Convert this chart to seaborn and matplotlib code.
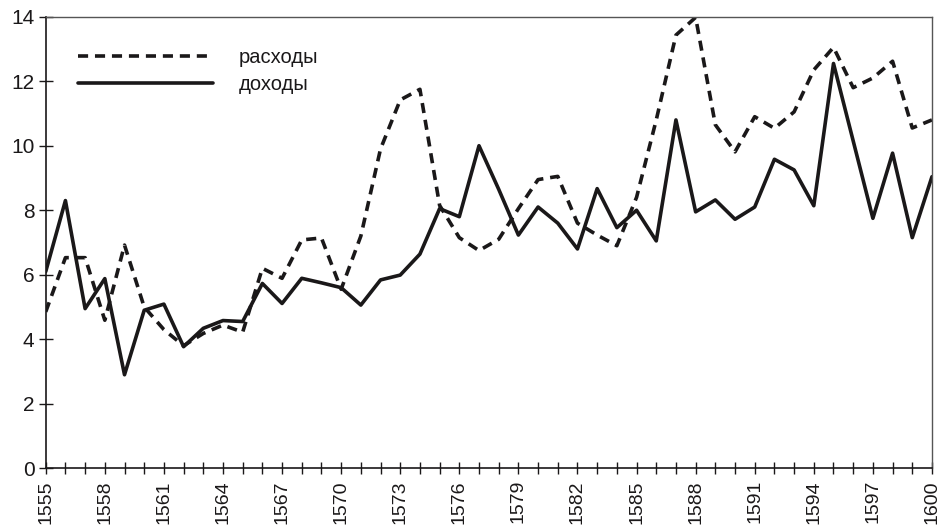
import matplotlib
matplotlib.use("Agg")
import matplotlib.pyplot as plt
import seaborn as sns
import pandas as pd

years = list(range(1555, 1601))

income = [6.1, 8.3, 4.95, 5.88, 2.9, 4.9, 5.09, 3.77, 4.34, 4.58,
          4.55, 5.73, 5.11, 5.89, 5.75, 5.6, 5.06, 5.84, 5.99, 6.64,
          8.05, 7.8, 10.0, 8.65, 7.23, 8.1, 7.6, 6.8, 8.67, 7.46,
          8.0, 7.05, 10.8, 7.95, 8.32, 7.72, 8.1, 9.58, 9.25, 8.14,
          12.55, 10.15, 7.75, 9.77, 7.15, 9.04]

expenses = [4.85, 6.53, 6.53, 4.59, 6.92, 5.0, 4.3, 3.8, 4.18, 4.44,
            4.22, 6.2, 5.89, 7.08, 7.14, 5.55, 7.2, 9.9, 11.42, 11.75,
            8.15, 7.15, 6.75, 7.1, 8.05, 8.95, 9.05, 7.6, 7.23, 6.9,
            8.4, 10.8, 13.43, 13.98, 10.65, 9.81, 10.9, 10.54, 11.05, 12.35,
            13.05, 11.8, 12.1, 12.62, 10.55, 10.8]

series_names = ["расходы", "доходы"]
y_ticks = [0, 2, 4, 6, 8, 10, 12, 14]
x_tick_labels = [str(y) if (y - 1555) % 3 == 0 else "" for y in years]

df = pd.concat([
    pd.DataFrame({"year": years, "value": expenses, "series": series_names[0]}),
    pd.DataFrame({"year": years, "value": income, "series": series_names[1]}),
], ignore_index=True)

sns.set_style("ticks")
plt.rcParams["font.family"] = ["Liberation Sans", "DejaVu Sans"]

ink = "#1a1819"
fig = plt.figure(figsize=(9.41, 5.27), dpi=100)
ax = fig.add_axes([0.0486, 0.1114, 0.9418, 0.8569])

sns.lineplot(data=df, x="year", y="value", hue="series", style="series",
             hue_order=series_names, style_order=series_names,
             palette={series_names[0]: ink, series_names[1]: ink},
             dashes={series_names[0]: (2.8, 1.9), series_names[1]: ""},
             linewidth=2.6, ax=ax, legend=True)

ax.set_xlim(1555, 1600)
ax.set_ylim(0, 14)
ax.set_xticks(years)
ax.set_xticklabels(x_tick_labels, rotation=90, fontsize=14, color=ink)
ax.set_yticks(y_ticks)
ax.set_yticklabels([str(v) for v in y_ticks], fontsize=15, color=ink)
ax.set_xlabel("")
ax.set_ylabel("")

ax.tick_params(axis="x", direction="inout", length=9, width=1.0, color=ink, pad=4)
ax.tick_params(axis="y", direction="inout", length=10, width=1.0, color=ink, pad=3)

for side in ["left", "bottom"]:
    ax.spines[side].set_color(ink)
    ax.spines[side].set_linewidth(1.2)
for side in ["top", "right"]:
    ax.spines[side].set_visible(True)
    ax.spines[side].set_color("#555555")
    ax.spines[side].set_linewidth(1.0)

handles, labels = ax.get_legend_handles_labels()
leg = ax.legend(handles, labels, loc="upper left", bbox_to_anchor=(0.0364, 0.93),
                frameon=False, fontsize=14.5, handlelength=6.7, handletextpad=1.3,
                labelspacing=0.4, borderpad=0, borderaxespad=0)
for t in leg.get_texts():
    t.set_color(ink)

fig.savefig("out.png", dpi=100)
